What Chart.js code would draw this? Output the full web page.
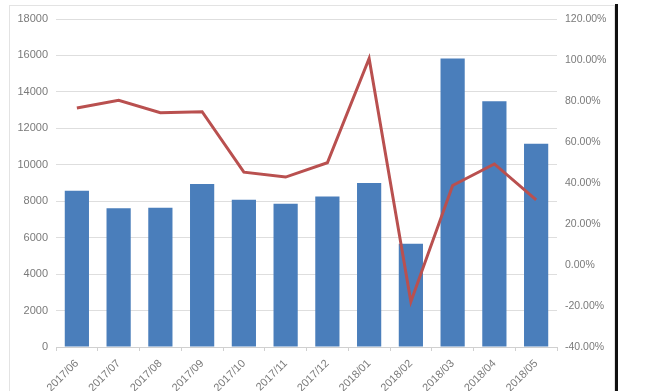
<!DOCTYPE html>
<html>
<head>
<meta charset="utf-8">
<script src="https://cdn.jsdelivr.net/npm/chart.js@4/dist/chart.umd.min.js"></script>
<style>
html, body { margin: 0; padding: 0; width: 645px; height: 391px; overflow: hidden; background: #fff; }
#cadre { position: absolute; left: 9px; top: 5px; width: 604px; height: 420px; border: 1px solid #e3e3e3; }
#barre { position: absolute; left: 615px; top: 4px; width: 3px; height: 400px; background: #111; }
#chart { position: absolute; left: 0; top: 0; }
</style>
</head>
<body>
<div id="cadre"></div>
<canvas id="chart" width="645" height="407"></canvas>
<div id="barre"></div>
<script>
// Données
const mois = ['2017/06', '2017/07', '2017/08', '2017/09', '2017/10', '2017/11',
  '2017/12', '2018/01', '2018/02', '2018/03', '2018/04', '2018/05'];
const volumes = [8570, 7620, 7640, 8940, 8080, 7860, 8260, 9000, 5660, 15830, 13480, 11160];
const croissance = [76.6, 80.3, 74.3, 74.8, 45.3, 42.9, 49.9, 100.7, -17.9, 38.8, 49.3, 31.8];

const police = '"Liberation Sans", Arial, sans-serif';
const gris = '#7a7a7a';

const ctx = document.getElementById('chart').getContext('2d');
const chart = new Chart(ctx, {
  data: {
    labels: mois,
    datasets: [
      {
        type: 'line',
        label: 'croissance',
        data: croissance,
        yAxisID: 'y1',
        borderColor: '#b9504f',
        borderWidth: 3,
        pointRadius: 0,
        tension: 0,
        fill: false,
        order: 0
      },
      {
        type: 'bar',
        label: 'volume',
        data: volumes,
        yAxisID: 'y',
        backgroundColor: '#4a7ebb',
        barPercentage: 0.58,
        categoryPercentage: 1,
        order: 1
      }
    ]
  },
  options: {
    responsive: false,
    animation: false,
    layout: { padding: { top: 19, left: 0, right: 0, bottom: 0 } },
    plugins: { legend: { display: false }, tooltip: { enabled: false } },
    scales: {
      x: {
        offset: true,
        grid: { offset: true, drawOnChartArea: false, drawTicks: true, tickLength: 4, color: '#d0d0d0' },
        border: { display: true, color: '#d0d0d0' },
        ticks: { color: gris, font: { family: police, size: 11 }, maxRotation: 45, minRotation: 45, padding: 6, autoSkip: false },
        afterFit: axe => { axe.height = 60; }
      },
      y: {
        position: 'left',
        min: 0,
        max: 18000,
        grid: { color: '#dedede', drawTicks: false },
        border: { display: false },
        ticks: { stepSize: 2000, color: gris, font: { family: police, size: 11 }, padding: 8,
          callback: v => String(v) },
        afterFit: axe => { axe.width = 56; }
      },
      y1: {
        position: 'right',
        min: -40,
        max: 120,
        grid: { drawOnChartArea: false, drawTicks: false },
        border: { display: false },
        ticks: { stepSize: 20, color: gris, font: { family: police, size: 10.5 }, padding: 8,
          callback: v => v.toFixed(2) + '%' },
        afterFit: axe => { axe.width = 88; }
      }
    }
  }
});
</script>
</body>
</html>
